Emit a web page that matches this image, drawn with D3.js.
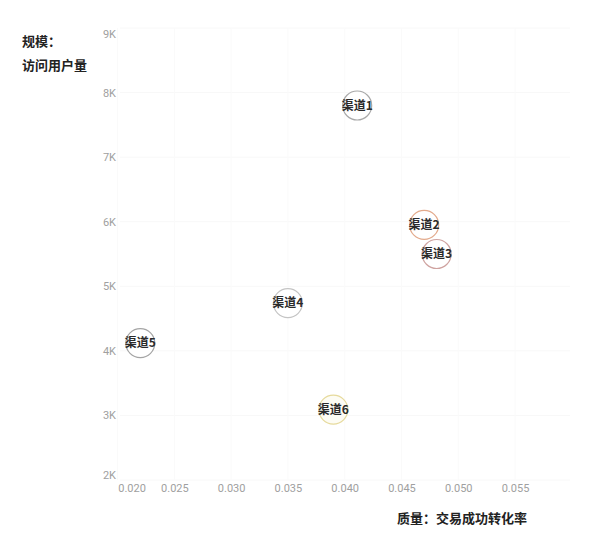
<!DOCTYPE html>
<html>
<head>
<meta charset="utf-8">
<script src="https://cdn.jsdelivr.net/npm/d3@7"></script>
<style>
  body { margin: 0; background: #fff; }
  svg { display: block; font-family: "Noto Sans CJK SC", "Noto Sans", sans-serif; }
</style>
</head>
<body>
<div id="chart"></div>
<script>
// channels, conversion rate (x), visiting users (y)
const channels = ["渠道1", "渠道2", "渠道3", "渠道4", "渠道5", "渠道6"];
const conversion = [0.0411, 0.0470, 0.0481, 0.0350, 0.0220, 0.0390];
const visitors = [7800, 5950, 5500, 4740, 4120, 3090];
const strokeColors = ["#a8a8a8", "#e3aa8c", "#cfa3a0", "#c4c4c4", "#a4a4a4", "#e6da9c"];

const xTicks = [0.020, 0.025, 0.030, 0.035, 0.040, 0.045, 0.050, 0.055];
const yTicks = [2000, 3000, 4000, 5000, 6000, 7000, 8000, 9000];

const width = 600, height = 539;

const svg = d3.select("#chart").append("svg")
  .attr("width", width)
  .attr("height", height);

const x = d3.scaleLinear().domain([0.020, 0.055]).range([117.6, 515]);
const y = d3.scaleLinear().domain([2000, 9000]).range([480, 28]);

// very faint grid
const grid = svg.append("g");
grid.selectAll(".hgrid")
  .data(yTicks)
  .join("line")
  .attr("x1", 120).attr("x2", 570)
  .attr("y1", d => y(d)).attr("y2", d => y(d))
  .attr("stroke", "#f8f8f8");
grid.selectAll(".vgrid")
  .data(xTicks)
  .join("line")
  .attr("x1", d => x(d)).attr("x2", d => x(d))
  .attr("y1", 28).attr("y2", 480)
  .attr("stroke", "#fafafa");

// axes labels (no axis lines)
const yAxis = svg.append("g")
  .attr("transform", "translate(116,0)")
  .call(d3.axisLeft(y).tickValues(yTicks).tickSize(0).tickPadding(0)
    .tickFormat(d => (d / 1000) + "K"));
yAxis.select(".domain").remove();
yAxis.selectAll("text")
  .attr("font-size", 11)
  .attr("fill", "#a0a0a0")
  .attr("font-family", "Roboto, sans-serif")
  .attr("dy", d => d === 9000 ? "0.9em" : d === 2000 ? "-0.1em" : "0.32em");

const xAxis = svg.append("g")
  .attr("transform", "translate(0,484)")
  .call(d3.axisBottom(x).tickValues(xTicks).tickSize(0).tickPadding(0)
    .tickFormat(d3.format(".3f")));
xAxis.select(".domain").remove();
xAxis.selectAll("text")
  .attr("font-size", 11)
  .attr("fill", "#a0a0a0")
  .attr("font-family", "Roboto, sans-serif")
  .attr("dx", d => d === 0.020 ? 14 : 0);

// axis titles
svg.append("text")
  .attr("x", 22).attr("y", 46)
  .attr("font-size", 13).attr("font-weight", "bold").attr("fill", "#222")
  .text("规模：");
svg.append("text")
  .attr("x", 22).attr("y", 70)
  .attr("font-size", 13).attr("font-weight", "bold").attr("fill", "#222")
  .text("访问用户量");
svg.append("text")
  .attr("x", 527).attr("y", 523)
  .attr("text-anchor", "end")
  .attr("font-size", 13).attr("font-weight", "bold").attr("fill", "#222")
  .text("质量：交易成功转化率");

// bubbles
const rows = channels.map((c, i) => ({ name: c, x: conversion[i], y: visitors[i], color: strokeColors[i] }));

const bubbles = svg.append("g").selectAll("g")
  .data(rows)
  .join("g")
  .attr("transform", d => `translate(${x(d.x)},${y(d.y)})`);

bubbles.append("circle")
  .attr("r", 14.5)
  .attr("fill", (d, i) => i === 5 ? "#fdfcf4" : "#fff")
  .attr("stroke", d => d.color)
  .attr("stroke-width", 1.2);

bubbles.append("text")
  .attr("text-anchor", "middle")
  .attr("dy", "0.36em")
  .attr("font-size", 12)
  .attr("font-weight", "bold")
  .attr("fill", "#2a2a2a")
  .text(d => d.name);
</script>
</body>
</html>
